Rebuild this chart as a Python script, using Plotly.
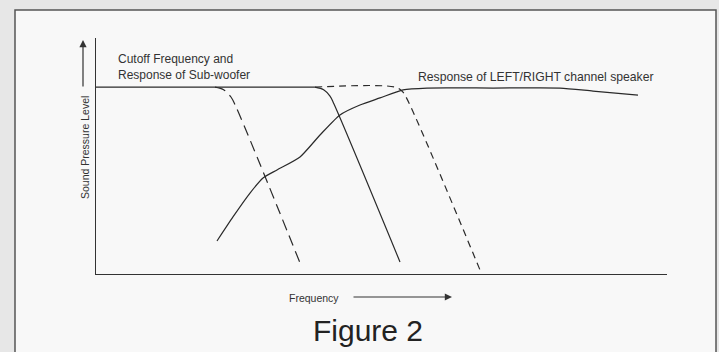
import plotly.graph_objects as go

# Data (frequency in arbitrary units 0-100, level in arbitrary units 0-100)
flat_freq = [0, 38.35]
flat_level = [79.2, 79.2]

sub_freq = [20.84, 22.42, 23.64, 24.52, 35.73]
sub_level = [79.2, 78.0, 75.0, 70.8, 4.7]

cut_freq = [38.35, 39.93, 40.98, 41.68, 53.24]
cut_level = [79.2, 78.0, 75.4, 72.0, 5.1]

hi_freq = [38.35, 52.36, 53.59, 54.29, 67.25]
hi_level = [79.2, 79.2, 77.5, 75.0, 1.7]

lr_freq = [21.19, 23.99, 26.97, 29.25, 31.70, 35.73, 39.23, 42.73, 46.23,
           49.74, 53.77, 57.97, 69.53, 81.26, 87.04, 94.92]
lr_level = [14.0, 24.2, 34.3, 40.7, 44.1, 49.6, 58.9, 67.4, 71.6,
            74.6, 78.0, 78.8, 78.8, 78.8, 77.5, 75.8]

W, H = 719, 352
L, R, T, B = 96, 667, 38, 274


def px(x):
    return (x - L) / (R - L)


def py(y):
    return (B - y) / (B - T)


ink = "#2a2a2a"
fig = go.Figure()
fig.add_trace(go.Scatter(x=flat_freq, y=flat_level, mode="lines",
                         line=dict(color=ink, width=1.4)))
fig.add_trace(go.Scatter(x=sub_freq, y=sub_level, mode="lines",
                         line=dict(color=ink, width=1.2, dash="11px,6px", shape="spline")))
fig.add_trace(go.Scatter(x=cut_freq, y=cut_level, mode="lines",
                         line=dict(color=ink, width=1.2, shape="spline")))
fig.add_trace(go.Scatter(x=hi_freq, y=hi_level, mode="lines",
                         line=dict(color=ink, width=1.2, dash="7px,5px", shape="spline")))
fig.add_trace(go.Scatter(x=lr_freq, y=lr_level, mode="lines",
                         line=dict(color=ink, width=1.2, shape="spline", smoothing=0.6)))

fig.update_layout(
    width=W, height=H,
    margin=dict(l=L, r=W - R, t=T, b=H - B),
    paper_bgcolor="#e7e7e7",
    plot_bgcolor="rgba(0,0,0,0)",
    showlegend=False,
    font=dict(family="Liberation Sans, Arial, sans-serif", color="#333"),
    xaxis=dict(range=[0, 100], showgrid=False, zeroline=False, showticklabels=False,
               ticks="", showline=True, linecolor="#333", linewidth=1.3),
    yaxis=dict(range=[0, 100], showgrid=False, zeroline=False, showticklabels=False,
               ticks="", showline=True, linecolor="#333", linewidth=1.3),
    shapes=[dict(type="rect", xref="paper", yref="paper", layer="below",
                 x0=px(15), x1=px(716), y0=py(400), y1=py(10),
                 fillcolor="#f8f8f8", line=dict(color="#555", width=1.5))],
)

ann = [
    dict(text="Cutoff Frequency and<br>Response of Sub-woofer", x=px(116), y=py(67),
         xanchor="left", yanchor="middle", align="left", font=dict(size=12)),
    dict(text="Response of LEFT/RIGHT channel speaker", x=px(416), y=py(77),
         xanchor="left", yanchor="middle", font=dict(size=12.2)),
    dict(text="Sound Pressure Level", x=px(85), y=py(148), textangle=-90,
         xanchor="center", yanchor="middle", font=dict(size=10.5)),
    dict(text="Frequency", x=px(314), y=py(298), xanchor="center", yanchor="middle",
         font=dict(size=10.5)),
    dict(text="Figure 2", x=px(368), y=py(330), xanchor="center", yanchor="middle",
         font=dict(size=30, color="#222")),
]
for a in ann:
    a.update(xref="paper", yref="paper", showarrow=False)
    fig.add_annotation(**a)

# axis arrows
fig.add_annotation(xref="paper", yref="paper", x=px(83), y=py(40), ax=0, ay=48,
                   text="", showarrow=True, arrowhead=2, arrowsize=1.2,
                   arrowwidth=1.2, arrowcolor="#333")
fig.add_annotation(xref="paper", yref="paper", x=px(452), y=py(297), ax=-100, ay=0,
                   text="", showarrow=True, arrowhead=2, arrowsize=1.2,
                   arrowwidth=1.2, arrowcolor="#333")

fig.write_html("out.html", config={"displayModeBar": False})

with open("out.html", "r", encoding="utf-8") as f:
    html = f.read()
html = html.replace("<head>", "<head><style>html,body{margin:0;padding:0;overflow:hidden;}</style>", 1)
with open("out.html", "w", encoding="utf-8") as f:
    f.write(html)
